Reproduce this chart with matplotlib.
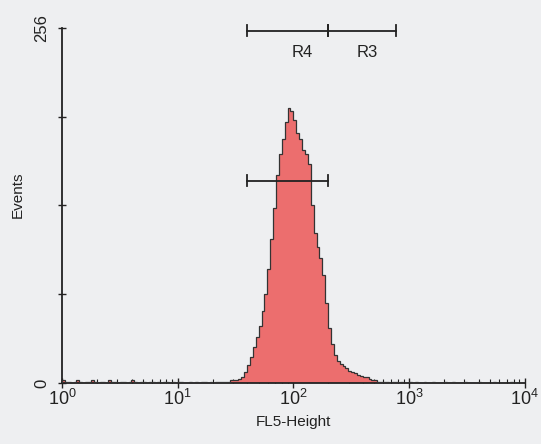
import numpy as np
import matplotlib
matplotlib.use("Agg")
import matplotlib.pyplot as plt

plt.rcParams['font.family'] = ['Liberation Sans', 'DejaVu Sans']
plt.rcParams['mathtext.fontset'] = 'custom'
plt.rcParams['mathtext.rm'] = 'Liberation Sans'
plt.rcParams['mathtext.it'] = 'Liberation Sans:italic'
plt.rcParams['mathtext.bf'] = 'Liberation Sans:bold'

# histogram: 160 bins of 0.025 decade from 10^0 to 10^4
bin_width_dec = 0.025
counts = [
    # log 0.0 - 1.4 (i = 0..55)
    2, 1, 1, 0, 1, 2, 1, 0, 1, 1, 2, 1, 0, 1, 1, 0, 2, 1, 1, 0,
    1, 1, 0, 1, 2, 1, 0, 1, 1, 0, 1, 1, 0, 1, 0, 1, 1, 0, 1, 0,
    1, 1, 0, 0, 1, 0, 1, 0, 1, 1, 0, 1, 0, 1, 1, 1,
    # log 1.4 - 2.8 (i = 56..111)
    1, 1, 2, 2, 2, 3, 4, 8, 13, 19, 26, 33, 41, 52, 64, 82,
    104, 126, 150, 165, 176, 188, 198, 196, 190, 180, 176, 168, 165, 158,
    128, 108, 98, 90, 78, 58, 40, 28, 20, 16, 14, 12, 11, 9, 8, 7,
    6, 5, 4, 4, 3, 2, 2, 1, 1, 1,
    # log 2.8 - 4.0 (i = 112..159)
    1, 0, 1, 1, 0, 1, 0, 0, 1, 0, 1, 0, 0, 1, 0, 0, 1, 0, 0, 0,
    1, 0, 0, 1, 0, 0, 0, 1, 0, 0, 0, 0, 1, 0, 0, 0, 0, 1, 0, 0,
    0, 0, 0, 1, 0, 0, 0, 0,
]

# gates
gate_M = (40, 200, 146)          # lower marker bar (x1, x2, y)
gate_R4 = (40, 200)
gate_R3 = (200, 775)
gate_top_y = 254
labels_R = [("R4", 120), ("R3", 434)]
label_y = 238

xtick_vals = [1, 10, 100, 1000, 10000]
xtick_labels = [r'$10^0$', r'$10^1$', r'$10^2$', r'$10^3$', r'$10^4$']
ytick_vals = [0, 64, 128, 192, 256]
ytick_labels = ['0', '', '', '', '256']

edges = 10 ** (np.arange(len(counts) + 1) * bin_width_dec)

bg = '#eeeff1'
fig = plt.figure(figsize=(5.41, 4.44), dpi=100, facecolor=bg)
ax = fig.add_axes([0.1146, 0.1374, 0.8554, 0.7996], facecolor=bg)

ax.stairs(counts, edges, fill=True, color='#ec6e6e', zorder=2)
ax.stairs(counts, edges, fill=False, color='#333333', lw=0.9, zorder=3)

ax.set_xscale('log')
ax.set_xlim(1, 10000)
ax.set_ylim(0, 256)

# gate bars
def gate(x1, x2, y, cap=4):
    ax.plot([x1, x2], [y, y], color='#222222', lw=1.3, zorder=4, clip_on=False)
    for xx in (x1, x2):
        ax.plot([xx, xx], [y - cap, y + cap], color='#222222', lw=1.3, zorder=4, clip_on=False)

gate(gate_M[0], gate_M[1], gate_M[2])
gate(gate_R4[0], gate_R4[1], gate_top_y)
gate(gate_R3[0], gate_R3[1], gate_top_y)
for txt, xv in labels_R:
    ax.text(xv, label_y, txt, ha='center', va='center', fontsize=12, color='#222222')

for s in ('top', 'right'):
    ax.spines[s].set_visible(False)
for s in ('left', 'bottom'):
    ax.spines[s].set_color('#222222')
    ax.spines[s].set_linewidth(1.3)

ax.set_xticks(xtick_vals)
ax.set_xticklabels(xtick_labels, fontsize=13, color='#222222')
ax.set_yticks(ytick_vals)
ax.set_yticklabels(ytick_labels, fontsize=12, rotation=90, va='center', color='#222222')
ax.tick_params(axis='x', which='major', direction='inout', length=7, width=1, color='#222222', pad=1)
ax.tick_params(axis='x', which='minor', direction='in', length=3, width=0.8, color='#222222')
ax.tick_params(axis='y', which='major', direction='inout', length=6, width=1, color='#222222', pad=6)

ax.set_xlabel('FL5-Height', fontsize=11, color='#222222', labelpad=4)
ax.set_ylabel('Events', fontsize=11, color='#222222', labelpad=8)
ax.yaxis.set_label_coords(-0.08, 0.53)

fig.savefig('out.png', dpi=100, facecolor=bg)
